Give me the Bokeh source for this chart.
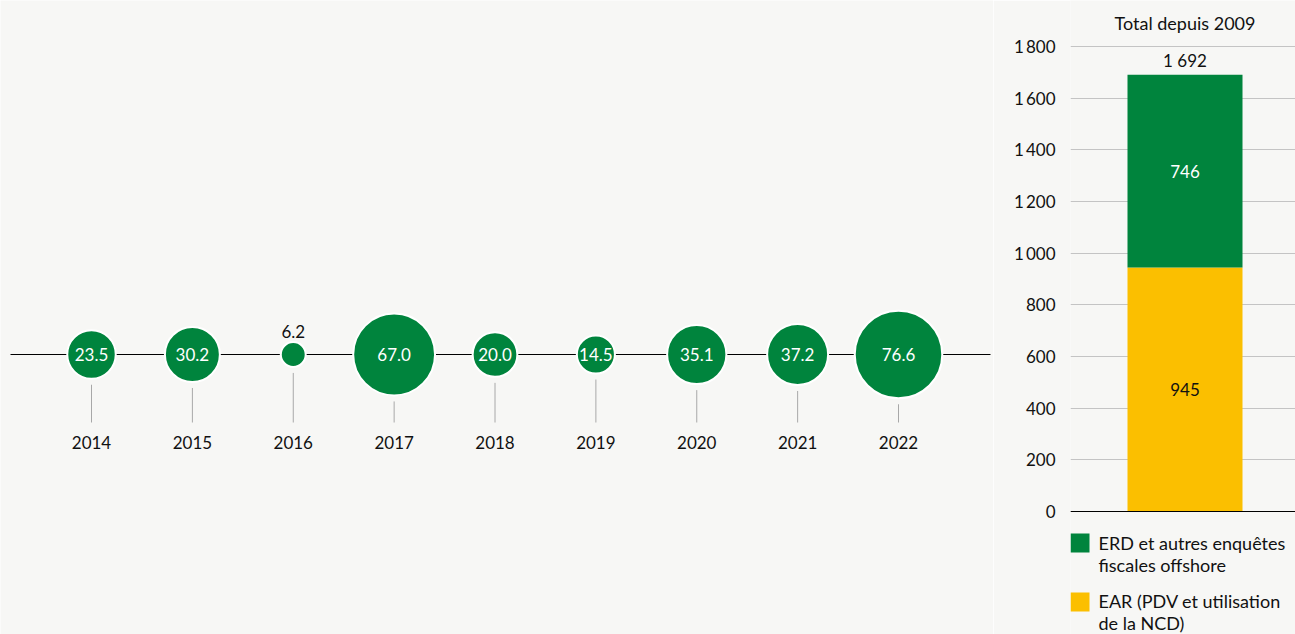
import numpy as np
from bokeh.plotting import figure
from bokeh.models import Range1d, Span, FixedTicker, ColumnDataSource
from bokeh.layouts import row
from bokeh.core.properties import value
from bokeh.embed import file_html
from bokeh.resources import INLINE

# ---- data ----
years = [2014, 2015, 2016, 2017, 2018, 2019, 2020, 2021, 2022]
year_labels = ["2014", "2015", "2016", "2017", "2018", "2019", "2020", "2021", "2022"]
amounts = [23.5, 30.2, 6.2, 67.0, 20.0, 14.5, 35.1, 37.2, 76.6]
amount_labels = ["23.5", "30.2", "6.2", "67.0", "20.0", "14.5", "35.1", "37.2", "76.6"]

total_title = "Total depuis 2009"
ear_total = [945]
erd_total = [746]
grand_total_label = ["1 692"]
ear_label = ["945"]
erd_label = ["746"]
series_names = ["ERD et autres enquêtes\nfiscales offshore", "EAR (PDV et utilisation\nde la NCD)"]
y_ticks = [0, 200, 400, 600, 800, 1000, 1200, 1400, 1600, 1800]
y_tick_labels = ["0", "200", "400", "600", "800", "1\u2009000", "1\u2009200", "1\u2009400", "1\u2009600", "1\u2009800"]

# ---- style ----
BG = "#f7f7f5"
GREEN = "#00843d"
YELLOW = "#fbbf00"
TXT = "#111111"
FONT = "Lato"
FS = "17px"
W, H = 1295, 634
LEFT_W = 993

# ---- left: bubble timeline ----
k = 5.0
amt = np.array(amounts)
r = k * np.sqrt(amt)
inside = amt >= 10
src = ColumnDataSource(dict(
    year=years,
    amount=amounts,
    size=list(2 * r),
    label=amount_labels,
    label_y=list(np.where(inside, 0.0, r + 4)),
    label_base=["middle" if i else "bottom" for i in inside],
    label_color=["white" if i else TXT for i in inside],
    tick_top=list(-(r + 6)),
    tick_bottom=[-68] * len(years),
    year_label=year_labels,
    year_y=[-88] * len(years),
))

px_per_year = 807 / 8
x0 = 2014 - 91 / px_per_year
x1 = x0 + LEFT_W / px_per_year

p = figure(width=LEFT_W, height=H, x_range=Range1d(x0, x1), y_range=Range1d(-(H - 354), 354),
           output_backend="svg", toolbar_location=None,
           min_border_left=0, min_border_right=0, min_border_top=0, min_border_bottom=0,
           background_fill_color=BG, border_fill_color=BG, outline_line_color=None)
p.axis.visible = False
p.grid.visible = False

# baseline of the timeline (from 10px to 990px)
p.segment(x0=[x0 + 10 / px_per_year], y0=[0], x1=[x0 + 990 / px_per_year], y1=[0],
          line_color="black", line_width=1)
p.segment(x0="year", y0="tick_top", x1="year", y1="tick_bottom", source=src,
          line_color="#a8a8a8", line_width=1)
p.scatter(x="year", y=0, size="size", source=src, fill_color=GREEN,
          line_color="white", line_width=2)
p.text(x="year", y="label_y", text="label", source=src, text_align="center",
       text_baseline="label_base", text_color="label_color",
       text_font=value(FONT), text_font_size=FS)
p.text(x="year", y="year_y", text="year_label", source=src, text_align="center",
       text_baseline="middle", text_color=TXT,
       text_font=value(FONT), text_font_size=FS)

# ---- right: stacked total bar ----
ppu = 465 / 1800.0          # pixels per unit
zero_px = 511               # page y of value 0
ytop = zero_px / ppu
ybot = -(H - zero_px) / ppu
frame_left = 1070
bar_center = 1184.5

bsrc = ColumnDataSource(dict(
    x=[0], ear=ear_total, erd=erd_total,
    ear_mid=[v / 2 for v in ear_total],
    erd_mid=[a + b / 2 for a, b in zip(ear_total, erd_total)],
    top=[a + b for a, b in zip(ear_total, erd_total)],
    total_label=grand_total_label, ear_label=ear_label, erd_label=erd_label,
))

p2 = figure(width=W - LEFT_W, height=H,
            x_range=Range1d(frame_left - bar_center, W - bar_center), y_range=Range1d(ybot, ytop),
            output_backend="svg", toolbar_location=None,
            min_border_left=frame_left - LEFT_W, min_border_right=0, min_border_top=0, min_border_bottom=0,
            background_fill_color=BG, border_fill_color=BG, outline_line_color=None)
p2.xaxis.visible = False
p2.xgrid.visible = False
p2.ygrid.ticker = FixedTicker(ticks=y_ticks)
p2.ygrid.grid_line_color = "#c4c4c4"
p2.ygrid.grid_line_width = 1
p2.yaxis.ticker = FixedTicker(ticks=y_ticks)
p2.yaxis.major_label_overrides = {t: l for t, l in zip(y_ticks, y_tick_labels)}
p2.yaxis.axis_line_color = None
p2.yaxis.major_tick_line_color = None
p2.yaxis.minor_tick_line_color = None
p2.yaxis.major_tick_out = 0
p2.yaxis.major_tick_in = 0
p2.yaxis.major_label_standoff = 15
p2.yaxis.major_label_text_font = FONT
p2.yaxis.major_label_text_font_size = FS
p2.yaxis.major_label_text_color = TXT

rs = p2.vbar_stack(["ear", "erd"], x="x", width=115, source=bsrc,
                   color=[YELLOW, GREEN], line_color=None)
p2.add_layout(Span(location=0, dimension="width", line_color="black", line_width=1))

p2.text(x="x", y="ear_mid", text="ear_label", source=bsrc, text_align="center",
        text_baseline="middle", text_color=TXT, text_font=value(FONT), text_font_size=FS)
p2.text(x="x", y="erd_mid", text="erd_label", source=bsrc, text_align="center",
        text_baseline="middle", text_color="white", text_font=value(FONT), text_font_size=FS)
p2.text(x="x", y="top", text="total_label", source=bsrc, text_align="center", y_offset=-4,
        text_baseline="bottom", text_color=TXT, text_font=value(FONT), text_font_size=FS)
p2.text(x=[0], y=[(zero_px - 22) / ppu], text=[total_title], text_align="center",
        text_baseline="middle", text_color=TXT, text_font=value(FONT), text_font_size="18px")

# legend (drawn below the zero line)
leg_sq_x = (frame_left + 9.5) - bar_center
leg_tx_x = 1098 - bar_center
leg_sq_y = [-(542.5 - zero_px) / ppu, -(601.5 - zero_px) / ppu]
leg_tx_y = [-(531 - zero_px) / ppu, -(589 - zero_px) / ppu]
lsrc = ColumnDataSource(dict(
    sx=[leg_sq_x] * 2, sy=leg_sq_y, tx=[leg_tx_x] * 2, ty=leg_tx_y,
    name=series_names, color=[GREEN, YELLOW],
))
p2.scatter(x="sx", y="sy", marker="square", size=19, source=lsrc,
           fill_color="color", line_color=None)
p2.text(x="tx", y="ty", text="name", source=lsrc, text_align="left", text_baseline="top",
        text_color=TXT, text_font=value(FONT), text_font_size="18px", text_line_height=1.02)

layout = row(p, p2, spacing=0)
open("out.html", "w").write(file_html(layout, INLINE))
